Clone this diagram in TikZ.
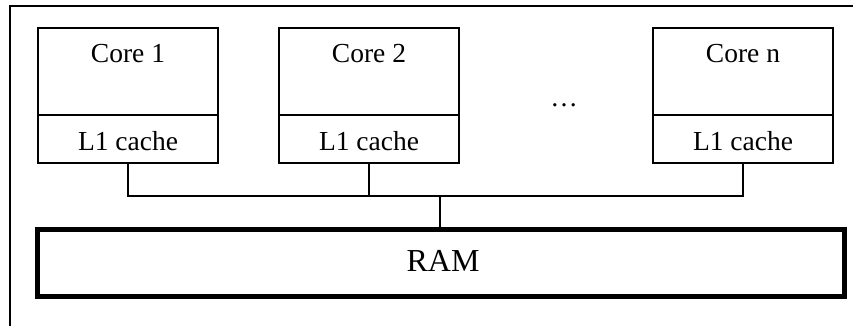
\documentclass[tikz,border=0pt]{standalone}
\usepackage{fontspec}
\setmainfont{Liberation Serif}
\begin{document}
\begin{tikzpicture}[x=1pt,y=-1pt,
  corebox/.style={draw, line width=1.3pt, minimum width=180pt, minimum height=87pt, inner sep=0pt, outer sep=0pt, anchor=north west},
  cachebox/.style={draw, line width=1.3pt, minimum width=180pt, minimum height=48pt, inner sep=0pt, outer sep=0pt, anchor=north west},
  rambox/.style={draw, line width=5pt, minimum width=807pt, minimum height=67pt, inner sep=0pt, outer sep=0pt, anchor=north west},
  lbl/.style={anchor=base, inner sep=0pt, font=\fontsize{27.5}{33}\selectfont},
  ramlbl/.style={anchor=base, inner sep=0pt, font=\fontsize{32}{38}\selectfont},
  wire/.style={draw, line width=1.2pt},
  frame/.style={draw, line width=2pt}
]
\useasboundingbox (0,0) rectangle (853,326);
% outer frame (open at right and bottom)
\draw[frame] (10,327) -- (10,6) -- (854,6);

% cores
\node[corebox] (core1) at (38,28) {};
\node[cachebox] (cache1) at (38,115) {};
\node[corebox] (core2) at (279,28) {};
\node[cachebox] (cache2) at (279,115) {};
\node[corebox] (coren) at (653,28) {};
\node[cachebox] (cachen) at (653,115) {};

\node[lbl] (tcore1) at (128,63) {Core 1};
\node[lbl] (tcache1) at (128,150) {L1 cache};
\node[lbl] (tcore2) at (369,63) {Core 2};
\node[lbl] (tcache2) at (369,150) {L1 cache};
\node[lbl] (tcoren) at (743,63) {Core n};
\node[lbl] (tcachen) at (743,150) {L1 cache};
\node[lbl] (dots) at (564,106.5) {\dots};

% RAM
\node[rambox] (ram) at (37.5,229.5) {};
\node[ramlbl] (tram) at (443,271.7) {RAM};

% bus
\coordinate (bus) at (440,196);
\draw[wire] (cache1.south) |- (bus) -| (cachen.south);
\draw[wire] (cache2.south) -- (cache2.south |- bus);
\draw[wire] (bus) -- (bus |- ram.north);
\end{tikzpicture}
\end{document}
